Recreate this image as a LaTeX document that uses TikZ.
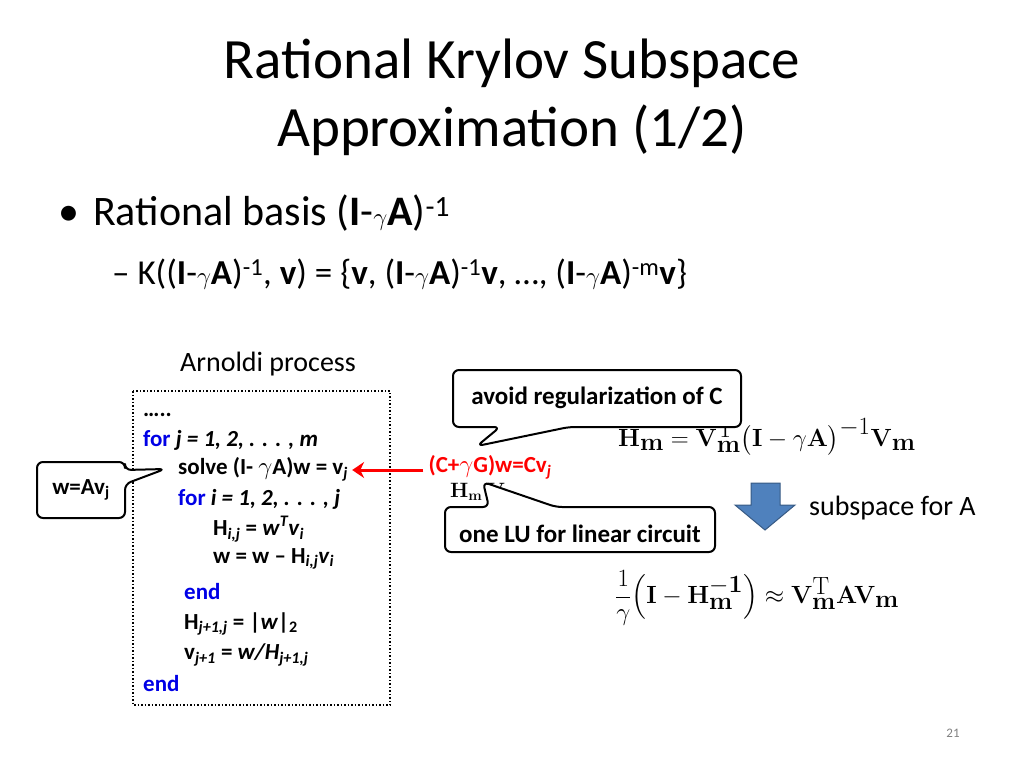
\documentclass[tikz,border=0pt]{standalone}
\usepackage{amsmath}
\usepackage[no-math]{fontspec}
\setmainfont{Carlito}
\usetikzlibrary{arrows.meta}
\definecolor{kwblue}{RGB}{0,0,230}
\definecolor{arrblue}{RGB}{79,129,189}
\newcommand{\kw}[1]{\textcolor{kwblue}{#1}}
\tikzset{x=1pt,y=-1pt,
 code/.style={anchor=west,inner sep=0,font=\fontsize{23}{26}\selectfont\bfseries},
 call/.style={draw=black,line width=2pt,fill=white,rounded corners=6pt,line join=round},
 ctext/.style={font=\fontsize{25}{28}\selectfont\bfseries,inner sep=0},
 fml/.style={inner sep=0,font=\fontsize{34}{38}\selectfont}}
\begin{document}
\begin{tikzpicture}
\useasboundingbox (0,0) rectangle (1024,768);
\node[font=\fontsize{57}{62}\selectfont] (t1) at (512,63) {Rational Krylov Subspace};
\node[font=\fontsize{57}{62}\selectfont] (t2) at (512,130) {Approximation (1/2)};
\node[anchor=west,inner sep=0,font=\fontsize{42}{46}\selectfont] (b1) at (58,213) {•\hspace{14pt}Rational basis (\textbf{I}-$\gamma$\textbf{A})$^{\text{-1}}$};
\node[anchor=west,inner sep=0,font=\fontsize{35}{40}\selectfont] (b2) at (112,274) {– K((\textbf{I}-$\gamma$\textbf{A})$^{\text{-1}}$, \textbf{v}) = \{\textbf{v}, (\textbf{I}-$\gamma$\textbf{A})$^{\text{-1}}$\textbf{v}, …, (\textbf{I}-$\gamma$\textbf{A})$^{\text{-m}}$\textbf{v}\}};
\node[font=\fontsize{28}{32}\selectfont] (ap) at (268,364) {Arnoldi process};
\draw[dotted,line width=1.5pt] (133,391) rectangle (390,705);
\node[code] (c0) at (143,415) {…..};
\node[code] (c1) at (143,440) {\kw{for} \textit{j = 1, 2, . . . , m}};
\node[code] (c2) at (178,469) {solve (I- $\gamma$A)w = v$_{\textit{j}}$};
\node[code] (c3) at (178,499) {\kw{for} \textit{i = 1, 2, . . . , j}};
\node[code] (c4) at (213,529) {H$_{\textit{i,j}}$ = \textit{w}$^{\textit{T}}$\textit{v}$_{\textit{i}}$};
\node[code] (c5) at (213,559) {w = w – H$_{\textit{i,j}}$\textit{v}$_{\textit{i}}$};
\node[code] (c6) at (184,592) {\kw{end}};
\node[code] (c7) at (184,624) {H$_{\textit{j+1,j}}$ = |\textit{w}|$_{\text{2}}$};
\node[code] (c8) at (184,655) {v$_{\textit{j+1}}$ = \textit{w/H}$_{\textit{j+1,j}}$};
\node[code] (c9) at (143,684) {\kw{end}};
% formulas
\node[fml,anchor=west] (f1) at (618,437) {$\mathbf{H_m}=\mathbf{V_m^{\mathrm T}}\bigl(\mathbf{I}-\gamma\mathbf{A}\bigr)^{-1}\mathbf{V_m}$};
\node[fml,anchor=west] (f2) at (615,598) {$\dfrac{1}{\gamma}\Bigl(\mathbf{I}-\mathbf{H_m^{-1}}\Bigr)\approx\mathbf{V_m^{\mathrm T}AV_m}$};
\node[fml,anchor=west,font=\fontsize{22}{24}\selectfont] (hm) at (450,492) {$\mathbf{H_m}\ \mathbf{V}$};
% callout 1
\draw[call] (453,370) -- (741,370) -- (741,427) -- (569,427) -- (477,446) -- (500,427) -- (453,427) -- cycle;
\node[ctext] (k1) at (597,398) {avoid regularization of C};
% callout 2
\draw[call] (445,507) -- (489,507) -- (483,482) -- (556,507) -- (715,507) -- (715,552) -- (445,552) -- cycle;
\node[ctext] (k2) at (580,534) {one LU for linear circuit};
% callout 3
\draw[call] (37,462) -- (125,462) -- (125,470) -- (165,469) -- (125,484) -- (125,518) -- (37,518) -- cycle;
\node[ctext,font=\fontsize{23}{26}\selectfont\bfseries] (k3) at (81,490) {w=Av$_{\text{j}}$};
% red
\node[text=red,inner sep=0,font=\fontsize{23}{26}\selectfont\bfseries] (red) at (490,467) {(C+$\gamma$G)w=Cv$_{\textit{j}}$};
\coordinate (rs) at ([xshift=-5pt,yshift=-3pt]red.west);
\draw[red,line width=3pt,-{Stealth[length=12pt,width=16pt]}] (rs) -- ([xshift=4pt]c2.east |- rs);
% blue arrow
\draw[draw=arrblue!70!black,fill=arrblue,line width=1pt] (751,483) -- (780,483) -- (780,505) -- (795,505) -- (765,530) -- (735,505) -- (751,505) -- cycle;
\node[anchor=west,inner sep=0,font=\fontsize{28}{32}\selectfont] (sa) at (809,508) {subspace for A};
\node[font=\fontsize{13}{15}\selectfont,text=gray] (pg) at (953,733) {21};
\end{tikzpicture}
\end{document}
